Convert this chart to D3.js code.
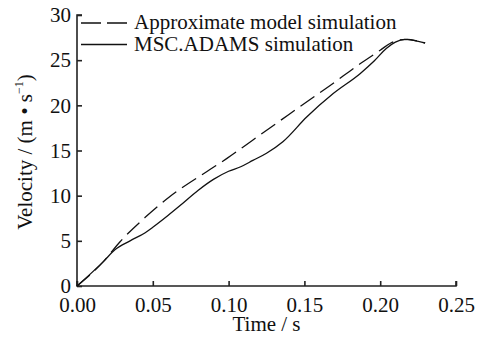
<!DOCTYPE html>
<html>
<head>
<meta charset="utf-8">
<script src="https://cdn.jsdelivr.net/npm/d3@7"></script>
<style>
  body { margin: 0; background: #fff; }
  svg { display: block; }
  svg text { font-family: "Liberation Serif", "Times New Roman", Tinos, "DejaVu Serif", serif; }
  .axis path, .axis line { stroke: #222; stroke-width: 1.6; }
  .axis text { font-size: 21px; fill: #111; }
</style>
</head>
<body>
<div id="chart"></div>
<script>
// time (s) and velocity (m/s)
const approxT = [0, 0.0174, 0.0284, 0.045, 0.0613, 0.0855, 0.0987, 0.1163, 0.134, 0.150, 0.167, 0.1867, 0.200, 0.207, 0.213, 0.218, 0.224, 0.2296];
const approxV = [0, 2.7, 4.9, 7.6, 9.9, 12.65, 14.1, 16.2, 18.3, 20.2, 22.2, 24.6, 26.1, 26.9, 27.25, 27.3, 27.15, 26.9];

const adamsT = [0, 0.0174, 0.025, 0.035, 0.045, 0.05, 0.06, 0.068, 0.08, 0.09, 0.1, 0.108, 0.116, 0.125, 0.136, 0.1515, 0.169, 0.1867, 0.196, 0.204, 0.210, 0.216, 0.222, 0.2296];
const adamsV = [0, 2.7, 4.0, 5.0, 5.9, 6.5, 7.8, 8.9, 10.6, 11.8, 12.7, 13.2, 13.9, 14.7, 16.0, 18.7, 21.3, 23.5, 24.9, 26.3, 27.0, 27.3, 27.2, 26.9];

const xTicks = [0, 0.05, 0.10, 0.15, 0.20, 0.25];
const yTicks = [0, 5, 10, 15, 20, 25, 30];
const legendLabels = ["Approximate model simulation", "MSC.ADAMS simulation"];

const width = 486, height = 345;
const margin = {left: 77, right: 30, top: 15, bottom: 59};

const svg = d3.select("#chart").append("svg")
  .attr("width", width)
  .attr("height", height);

const x = d3.scaleLinear().domain([0, 0.25]).range([margin.left, width - margin.right]);
const y = d3.scaleLinear().domain([0, 30]).range([height - margin.bottom, margin.top]);

// axes, ticks point inward
svg.append("g")
  .attr("class", "axis")
  .attr("transform", `translate(0,${y(0)})`)
  .call(d3.axisBottom(x).tickValues(xTicks).tickSize(-5).tickPadding(11).tickFormat(d3.format(".2f")))
  .call(g => g.select(".domain").attr("d", `M${x(0)},-5V0H${x(0.25)}V-5`))
  .call(g => g.attr("font-family", null))
  .selectAll("text").attr("dy", "0.71em");

svg.append("g")
  .attr("class", "axis")
  .attr("transform", `translate(${x(0)},0)`)
  .call(d3.axisLeft(y).tickValues(yTicks).tickSize(-5).tickPadding(6))
  .call(g => g.attr("font-family", null))
  .call(g => g.select(".domain").attr("d", `M5,${y(30)}H0V${y(0)}`));

const zip = (ts, vs) => ts.map((t, i) => [t, vs[i]]);
const line = d3.line().x(d => x(d[0])).y(d => y(d[1])).curve(d3.curveMonotoneX);

svg.append("path")
  .datum(zip(adamsT, adamsV))
  .attr("d", line)
  .attr("fill", "none")
  .attr("stroke", "#111")
  .attr("stroke-width", 1.3);

svg.append("path")
  .datum(zip(approxT, approxV))
  .attr("d", line)
  .attr("fill", "none")
  .attr("stroke", "#111")
  .attr("stroke-width", 1.3)
  .attr("stroke-dasharray", "17,7");

// legend
const legend = svg.append("g");
[0, 1].forEach(i => {
  const ly = 23 + i * 21.5;
  legend.append("line")
    .attr("x1", 81).attr("x2", 127)
    .attr("y1", ly).attr("y2", ly)
    .attr("stroke", "#111")
    .attr("stroke-width", 1.3)
    .attr("stroke-dasharray", i === 0 ? "20,6" : null);
  legend.append("text")
    .attr("x", 134).attr("y", ly + 6)
    .attr("font-size", 21)
    .attr("fill", "#111")
    .text(legendLabels[i]);
});

// axis titles
svg.append("text")
  .attr("x", (x(0) + x(0.25)) / 2)
  .attr("y", 331)
  .attr("text-anchor", "middle")
  .attr("font-size", 21)
  .attr("fill", "#111")
  .text("Time / s");

const yt = svg.append("text")
  .attr("transform", "translate(32,152) rotate(-90)")
  .attr("text-anchor", "middle")
  .attr("font-size", 21)
  .attr("fill", "#111");
yt.append("tspan").text("Velocity / (m \u2022 s");
yt.append("tspan").attr("font-size", 12).attr("dy", -9).text("\u22121");
yt.append("tspan").attr("dy", 9).text(")");
</script>
</body>
</html>
